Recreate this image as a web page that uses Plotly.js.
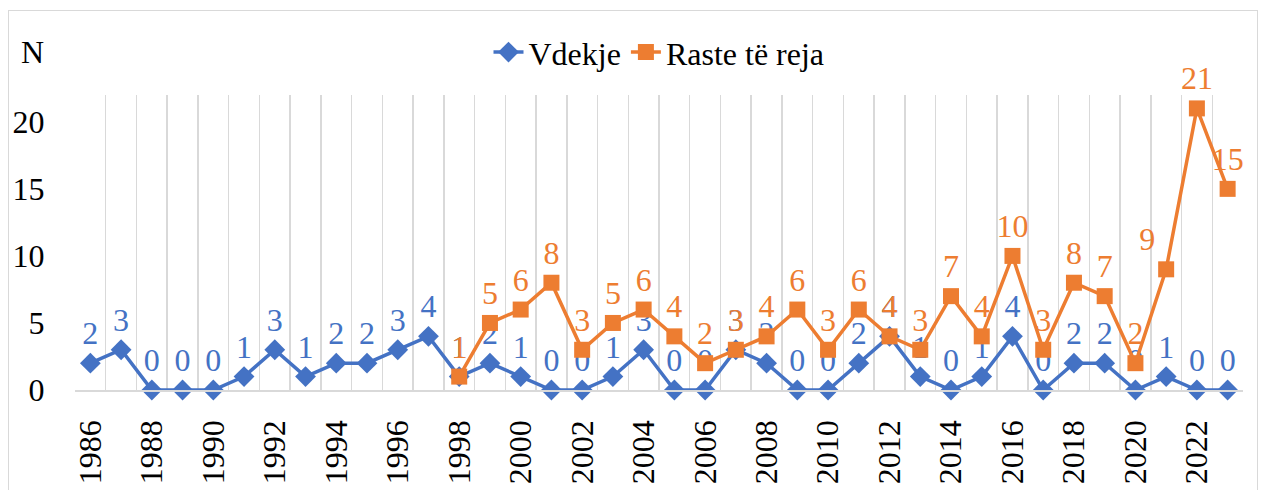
<!DOCTYPE html>
<html>
<head>
<meta charset="utf-8">
<script src="https://cdn.plot.ly/plotly-3.0.1.min.js"></script>
<style>
html,body{margin:0;padding:0;background:#fff;}
#frame{position:absolute;left:8px;top:10px;width:1250px;height:490px;border:1px solid #d9d9d9;box-sizing:border-box;}
#chart{position:absolute;left:0;top:0;width:1262px;height:490px;}
</style>
</head>
<body>
<div id="frame"></div>
<div id="chart"></div>
<script>
const years = [1986,1987,1988,1989,1990,1991,1992,1993,1994,1995,1996,1997,1998,1999,2000,2001,2002,2003,2004,2005,2006,2007,2008,2009,2010,2011,2012,2013,2014,2015,2016,2017,2018,2019,2020,2021,2022,2023];
const vdekje = [2,3,0,0,0,1,3,1,2,2,3,4,1,2,1,0,0,1,3,0,0,3,2,0,0,2,4,1,0,1,4,0,2,2,0,1,0,0];
const rasteYears = [1998,1999,2000,2001,2002,2003,2004,2005,2006,2007,2008,2009,2010,2011,2012,2013,2014,2015,2016,2017,2018,2019,2020,2021,2022,2023];
const rasteTeReja = [1,5,6,8,3,5,6,4,2,3,4,6,3,6,4,3,7,4,10,3,8,7,2,9,21,15];
const tickYears = [1986,1988,1990,1992,1994,1996,1998,2000,2002,2004,2006,2008,2010,2012,2014,2016,2018,2020,2022];
const yTicks = [0,5,10,15,20];

const FONT = '"Times New Roman", "Liberation Serif", Times, serif';
const FS = 32;
const blue = '#4472C4', orange = '#ED7D31';

const orangeTextPos = rasteYears.map(function(y){
  if (y === 2021) return 'top left';
  return 'top center';
});

const traces = [
  {
    x: years, y: vdekje, name: 'Vdekje', type: 'scatter', mode: 'lines+markers+text',
    line: {color: blue, width: 3.5},
    marker: {symbol: 'diamond', size: 16, color: blue},
    text: vdekje.map(String), textposition: 'top center',
    textfont: {family: FONT, size: FS, color: blue},
    cliponaxis: false
  },
  {
    x: rasteYears, y: rasteTeReja, name: 'Raste të reja', type: 'scatter', mode: 'lines+markers+text',
    line: {color: orange, width: 3.5},
    marker: {symbol: 'square', size: 16, color: orange},
    text: rasteTeReja.map(String), textposition: orangeTextPos,
    textfont: {family: FONT, size: FS, color: orange},
    cliponaxis: false
  }
];

const layout = {
  width: 1262, height: 490,
  paper_bgcolor: 'rgba(0,0,0,0)', plot_bgcolor: 'rgba(0,0,0,0)',
  margin: {l: 74.6, r: 19.4, t: 95, b: 100, autoexpand: false},
  font: {family: FONT, size: FS, color: '#000'},
  showlegend: true,
  legend: {orientation: 'h', x: 0.5, xanchor: 'center', y: 1.145, yanchor: 'middle',
           font: {family: FONT, size: FS, color: '#000'}, bgcolor: 'rgba(0,0,0,0)'},
  xaxis: {
    type: 'linear', range: [1985.5, 2023.5],
    tickmode: 'array', tickvals: tickYears, ticktext: tickYears.map(String),
    tickangle: -90, showgrid: false, zeroline: false,
    ticks: 'outside', ticklen: 16, tickcolor: 'rgba(0,0,0,0)',
    showline: true, linecolor: '#d9d9d9', linewidth: 1.5,
    minor: {tick0: 1985.5, dtick: 1, showgrid: true, gridcolor: '#d9d9d9', gridwidth: 1.5, ticks: ''},
    tickfont: {family: FONT, size: FS, color: '#000'}
  },
  yaxis: {
    range: [0, 22], tickmode: 'array', tickvals: yTicks,
    showgrid: false, zeroline: false, showline: false,
    ticks: 'outside', ticklen: 23, tickcolor: 'rgba(0,0,0,0)',
    tickfont: {family: FONT, size: FS, color: '#000'}
  },
  annotations: [
    {text: 'N', xref: 'paper', yref: 'paper', x: -0.036, y: 1.145, xanchor: 'center', yanchor: 'middle',
     showarrow: false, font: {family: FONT, size: FS, color: '#000'}}
  ]
};

Plotly.newPlot('chart', traces, layout, {displayModeBar: false, staticPlot: true});
</script>
</body>
</html>
